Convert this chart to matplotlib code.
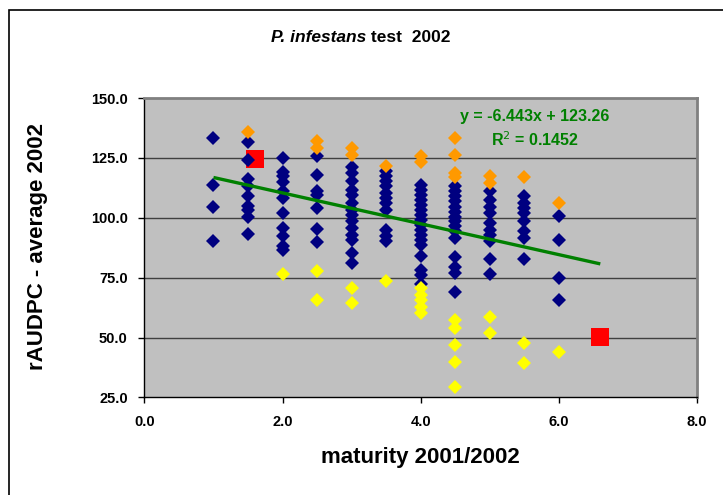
import matplotlib
matplotlib.use("Agg")
import matplotlib.pyplot as plt
from matplotlib.patches import Rectangle

plt.rcParams['font.family'] = ['Liberation Sans', 'DejaVu Sans']

# ---- data ----
navy_x = ([1.0]*4 + [1.5]*9 + [2.0]*11 + [2.5]*7 + [3.0]*14 + [3.5]*11 +
          [4.0]*17 + [4.5]*15 + [5.0]*10 + [5.5]*8 + [6.0]*4)
navy_y = [133.5, 113.5, 104.3, 90.1,
          131.6, 124.2, 116.2, 113.1, 109.2, 105.0, 103.3, 100.5, 93.3,
          125.0, 119.1, 117.3, 114.9, 111.0, 108.2, 102.0, 95.7, 92.2, 88.3, 86.6,
          125.6, 118.0, 111.0, 109.6, 104.1, 95.3, 89.7,
          121.4, 118.7, 115.2, 111.7, 109.6, 106.1, 103.3, 101.3, 98.5, 95.7, 92.9, 90.8, 85.2, 81.3,
          119.4, 117.3, 115.2, 113.1, 110.3, 108.2, 106.1, 103.3, 95.0, 92.2, 90.1,
          113.8, 111.7, 109.6, 107.5, 105.4, 103.3, 101.3, 99.2, 97.1, 95.0, 92.9, 90.8, 88.7, 84.1, 78.3, 76.2, 72.5,
          113.1, 111.0, 108.9, 106.8, 104.7, 102.6, 100.5, 98.5, 96.4, 94.3, 91.5, 83.8, 79.6, 76.9, 69.2,
          111.0, 107.5, 104.7, 102.0, 97.8, 95.0, 92.9, 90.1, 82.7, 76.6,
          108.9, 106.1, 104.1, 102.0, 98.5, 94.3, 91.5, 82.7,
          100.8, 90.8, 74.8, 65.7]

orange_x = [1.5, 2.5, 2.5, 3.0, 3.0, 3.5, 4.0, 4.0, 4.5, 4.5, 4.5, 4.5, 5.0, 5.0, 5.5, 6.0]
orange_y = [135.8, 131.9, 129.1, 129.1, 126.3, 121.7, 125.6, 123.1,
            133.5, 126.3, 118.7, 117.0, 117.3, 114.5, 117.0, 106.1]

yellow_x = [2.0, 2.5, 2.5, 3.0, 3.0, 3.5, 4.0, 4.0, 4.0, 4.0, 4.0,
            4.5, 4.5, 4.5, 4.5, 4.5, 5.0, 5.0, 5.5, 5.5, 6.0]
yellow_y = [76.6, 77.6, 65.7, 70.6, 64.3, 73.4, 70.6, 67.8, 65.7, 62.9, 60.2,
            57.4, 53.9, 46.9, 39.9, 29.5, 58.7, 51.8, 47.6, 39.3, 44.1]

red_x = [1.6, 6.6]
red_y = [124.7, 50.4]

trend_slope = -6.443
trend_intercept = 123.26
trend_xrange = [1.0, 6.6]

x_ticks = [0.0, 2.0, 4.0, 6.0, 8.0]
y_ticks = [25.0, 50.0, 75.0, 100.0, 125.0, 150.0]

# ---- figure ----
W, H = 723, 495
fig = plt.figure(figsize=(W/100, H/100), dpi=100)
fig.patch.set_facecolor('white')

# outer chart frame
fig.patches.append(Rectangle((9/W, -0.05), 1.2, 1 - 10/H + 0.05, transform=fig.transFigure,
                             fill=False, edgecolor='black', linewidth=1.2, zorder=0))

ax = fig.add_axes([144.4/W, 1 - 397.4/H, (697 - 144.4)/W, (397.4 - 98)/H])
ax.set_facecolor('#C0C0C0')
ax.set_xlim(0, 8)
ax.set_ylim(25, 150)

for v in y_ticks[1:-1]:
    ax.axhline(v, color='#404040', linewidth=1.0, zorder=1)

ax.plot(red_x, red_y, linestyle='none', marker='s', markersize=13,
        color='#FF0000', markeredgewidth=0, zorder=2)
ax.plot(navy_x, navy_y, linestyle='none', marker='D', markersize=7,
        color='#000080', markeredgewidth=0, zorder=3)
ax.plot(orange_x, orange_y, linestyle='none', marker='D', markersize=7,
        color='#FF9900', markeredgewidth=0, zorder=4)
ax.plot(yellow_x, yellow_y, linestyle='none', marker='D', markersize=7,
        color='#FFFF00', markeredgewidth=0, zorder=5)

tx = trend_xrange
ty = [trend_slope * v + trend_intercept for v in tx]
ax.plot(tx, ty, color='#008000', linewidth=2.4, solid_capstyle='butt', zorder=6)

ax.text(535/W, 1 - 117/H, 'y = -6.443x + 123.26', transform=fig.transFigure,
        ha='center', va='center', color='#008000', fontsize=11.5, fontweight='bold')
ax.text(535/W, 1 - 140/H, 'R$^{2}$ = 0.1452', transform=fig.transFigure,
        ha='center', va='center', color='#008000', fontsize=11.5, fontweight='bold')

ax.set_xticks(x_ticks)
ax.set_xticklabels([f'{v:.1f}' for v in x_ticks])
ax.set_yticks(y_ticks)
ax.set_yticklabels([f'{v:.1f}' for v in y_ticks])
ax.tick_params(axis='both', direction='out', length=4, width=1, color='black',
               labelsize=10.5)
ax.tick_params(axis='y', pad=8)
ax.tick_params(axis='x', pad=9)
for lab in ax.get_xticklabels() + ax.get_yticklabels():
    lab.set_fontweight('bold')

ax.spines['left'].set_color('black')
ax.spines['bottom'].set_color('black')
ax.spines['left'].set_linewidth(1.0)
ax.spines['bottom'].set_linewidth(1.0)
ax.spines['top'].set_color('#808080')
ax.spines['right'].set_color('#808080')
ax.spines['top'].set_linewidth(2)
ax.spines['right'].set_linewidth(2)

fig.text(38/W, 1 - 247/H, 'rAUDPC - average 2002', rotation=90, ha='center', va='center',
         fontsize=16, fontweight='bold')
fig.text(420/W, 1 - 457/H, 'maturity 2001/2002', ha='center', va='center',
         fontsize=16, fontweight='bold')

# title: italic species name + normal text
t1 = fig.text(0, 1 - 38/H, 'P. infestans', fontsize=12.5, style='italic',
              fontweight='bold', ha='left', va='center')
t2 = fig.text(0, 1 - 38/H, ' test  2002', fontsize=12.5, fontweight='bold',
              ha='left', va='center')
fig.canvas.draw()
r = fig.canvas.get_renderer()
w1 = t1.get_window_extent(r).width
w2 = t2.get_window_extent(r).width
x0 = 361 - (w1 + w2) / 2
t1.set_x(x0 / W)
t2.set_x((x0 + w1) / W)

fig.savefig('out.png', dpi=100)
